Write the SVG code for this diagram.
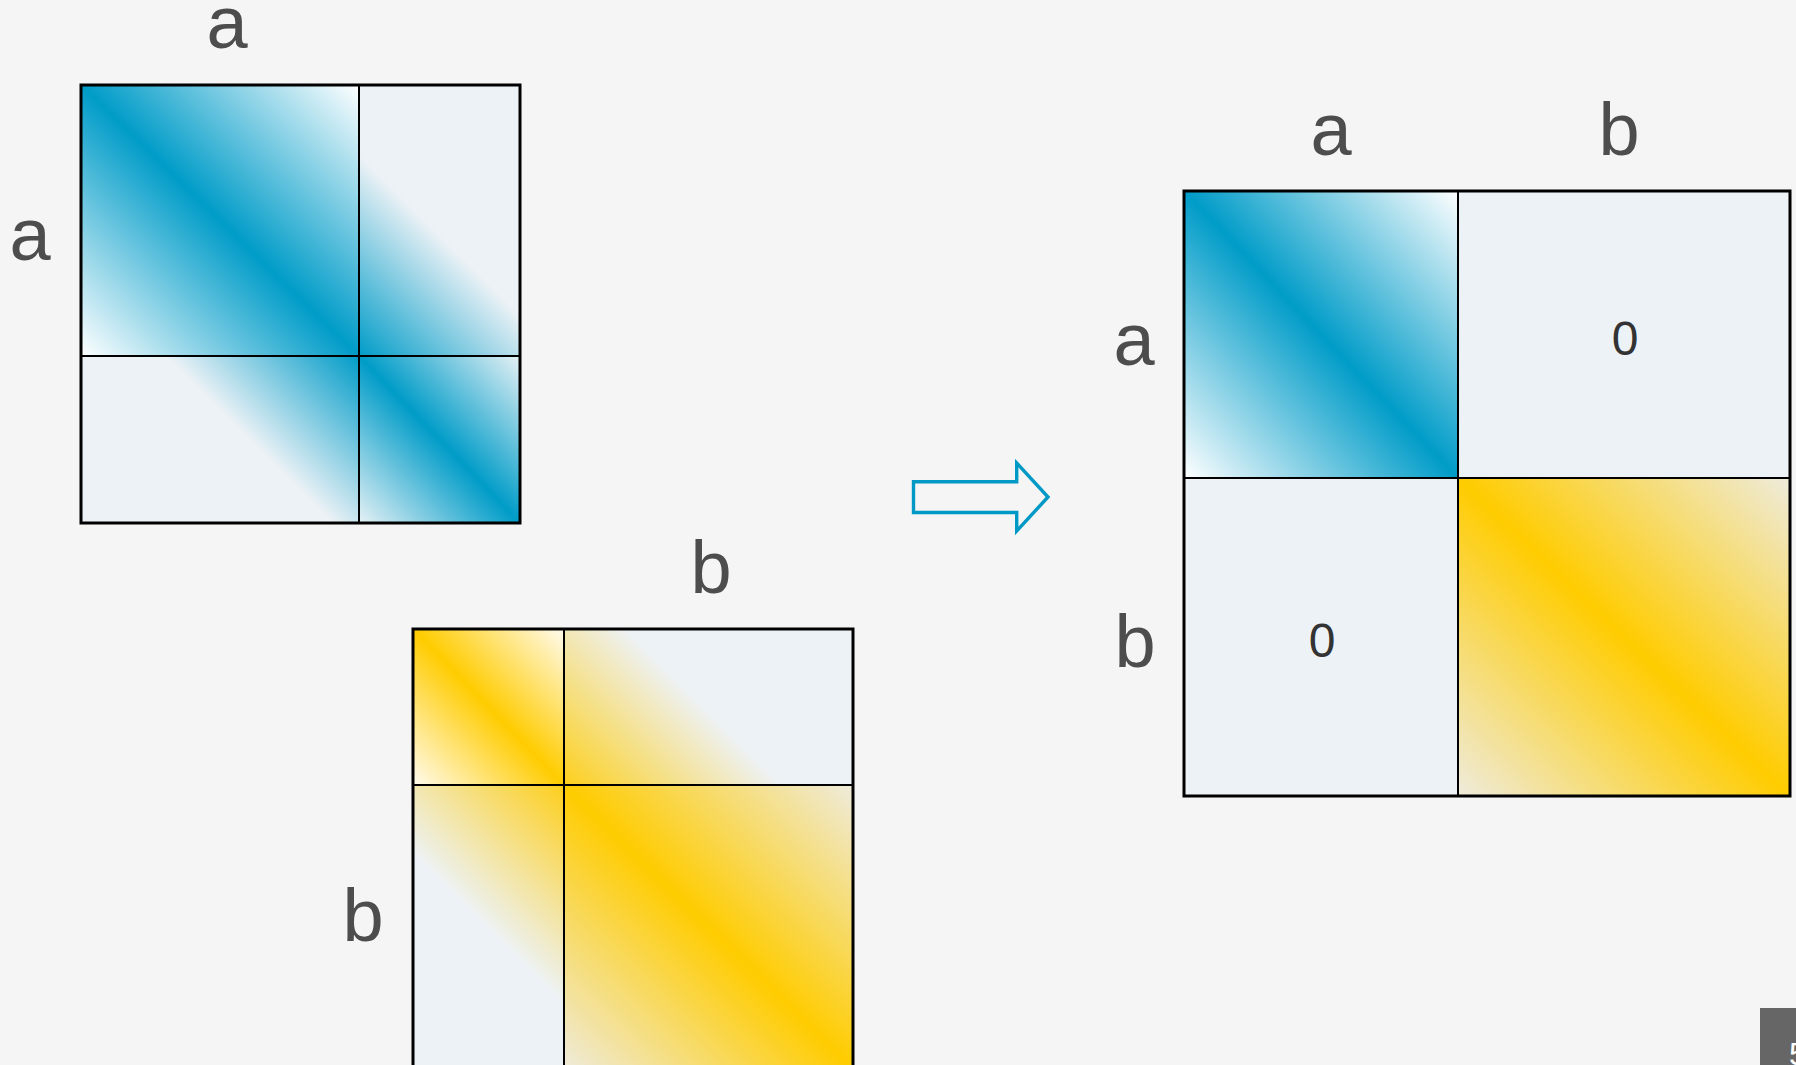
<svg xmlns="http://www.w3.org/2000/svg" width="1796" height="1065" viewBox="0 0 1796 1065">
<style>
.lbl{font-family:"Liberation Sans",Arial,sans-serif;font-size:74px;fill:#4d4d4d;text-anchor:middle}
.zero{font-family:"Liberation Sans",Arial,sans-serif;font-size:48px;fill:#333;text-anchor:middle}
.cell{stroke:#000;stroke-width:2}
.frame{fill:none;stroke:#000;stroke-width:3}
.grey{fill:#edf2f6}
</style>
<defs>
<linearGradient id="bDiag" x1="1" y1="0" x2="0" y2="1"><stop offset="0" stop-color="#ffffff"/><stop offset="0.5" stop-color="#009cc8"/><stop offset="1" stop-color="#ffffff"/></linearGradient>
<linearGradient id="bDiag2" x1="1" y1="0" x2="0" y2="1"><stop offset="0" stop-color="#e6f1f5"/><stop offset="0.5" stop-color="#009cc8"/><stop offset="1" stop-color="#e6f1f5"/></linearGradient>
<linearGradient id="bUp" gradientUnits="userSpaceOnUse" x1="359" y1="356" x2="460" y2="255"><stop offset="0" stop-color="#009cc8"/><stop offset="1" stop-color="#edf2f6"/></linearGradient>
<linearGradient id="bLo" gradientUnits="userSpaceOnUse" x1="359" y1="356" x2="262" y2="453"><stop offset="0" stop-color="#009cc8"/><stop offset="1" stop-color="#edf2f6"/></linearGradient>
<linearGradient id="yDiag" x1="1" y1="0" x2="0" y2="1"><stop offset="0" stop-color="#fffbee"/><stop offset="0.5" stop-color="#ffcc00"/><stop offset="1" stop-color="#fffbee"/></linearGradient>
<linearGradient id="yDiag2" x1="1" y1="0" x2="0" y2="1"><stop offset="0" stop-color="#eeebdc"/><stop offset="0.5" stop-color="#ffcc00"/><stop offset="1" stop-color="#eeebdc"/></linearGradient>
<linearGradient id="yUp" gradientUnits="userSpaceOnUse" x1="564" y1="785" x2="674" y2="675"><stop offset="0" stop-color="#fdcf1c"/><stop offset="1" stop-color="#edf2f6"/></linearGradient>
<linearGradient id="yLo" gradientUnits="userSpaceOnUse" x1="564" y1="785" x2="454" y2="895"><stop offset="0" stop-color="#fdcf1c"/><stop offset="1" stop-color="#edf2f6"/></linearGradient>
</defs>
<rect width="1796" height="1065" fill="#f5f5f5"/>

<g id="matrix-aa">
<rect class="cell" x="81" y="85" width="278" height="271" fill="url(#bDiag)"/>
<rect class="cell" x="359" y="85" width="161" height="271" fill="url(#bUp)"/>
<rect class="cell" x="81" y="356" width="278" height="167" fill="url(#bLo)"/>
<rect class="cell" x="359" y="356" width="161" height="167" fill="url(#bDiag2)"/>
<rect class="frame" x="81" y="85" width="439" height="438"/>
<text class="lbl" x="227" y="48">a</text>
<text class="lbl" x="30" y="260">a</text>
</g>

<g id="matrix-bb">
<rect class="cell" x="413" y="629" width="151" height="156" fill="url(#yDiag)"/>
<rect class="cell" x="564" y="629" width="289" height="156" fill="url(#yUp)"/>
<rect class="cell" x="413" y="785" width="151" height="284" fill="url(#yLo)"/>
<rect class="cell" x="564" y="785" width="289" height="284" fill="url(#yDiag2)"/>
<rect class="frame" x="413" y="629" width="440" height="440"/>
<text class="lbl" x="711" y="593">b</text>
<text class="lbl" x="363" y="941">b</text>
</g>

<g id="connectors">
<path id="arrow" d="M913.5 481.7 H1016.7 V463 L1048 497 L1016.7 531 V512.5 H913.5 Z" fill="none" stroke="#0099c6" stroke-width="3.4"/>
</g>

<g id="matrix-result">
<rect class="cell" x="1184" y="191" width="274" height="287" fill="url(#bDiag)"/>
<rect class="cell grey" x="1458" y="191" width="332" height="287"/>
<rect class="cell grey" x="1184" y="478" width="274" height="318"/>
<rect class="cell" x="1458" y="478" width="332" height="318" fill="url(#yDiag2)"/>
<rect class="frame" x="1184" y="191" width="606" height="605"/>
<text class="lbl" x="1331" y="155">a</text>
<text class="lbl" x="1619" y="155">b</text>
<text class="lbl" x="1134" y="365">a</text>
<text class="lbl" x="1135" y="667">b</text>
<text class="zero" x="1625" y="355">0</text>
<text class="zero" x="1322" y="657">0</text>
</g>

<g id="page-number">
<rect x="1760" y="1008" width="36" height="57" fill="#666666"/>
<text x="1789" y="1065" font-family="Liberation Sans, Arial, sans-serif" font-size="32" fill="#ffffff">5</text>
</g>
</svg>
